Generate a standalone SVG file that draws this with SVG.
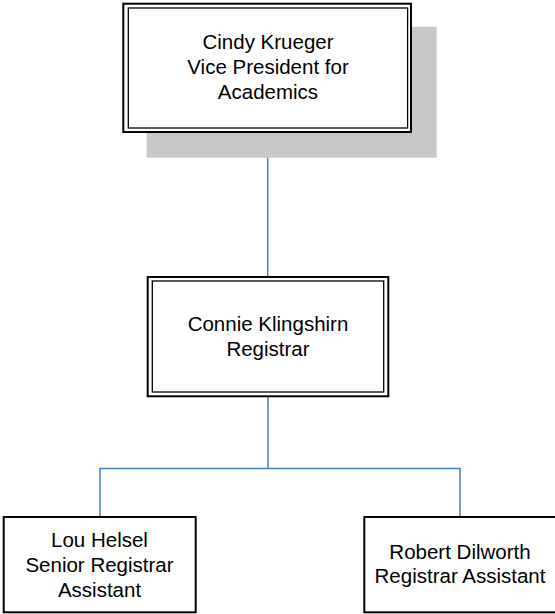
<svg xmlns="http://www.w3.org/2000/svg" width="555" height="614" viewBox="0 0 555 614">
<style>
.outer{fill:#fff;stroke:#000;stroke-width:2}
.inner{fill:none;stroke:#000;stroke-width:1.3}
.box{fill:#fff;stroke:#000;stroke-width:2}
.t{font-family:"Liberation Sans",Arial,sans-serif;font-size:20.5px;fill:#000;text-anchor:middle}
.c{fill:none;stroke:#4a7ebb;stroke-width:1.5}
</style>
<rect width="555" height="614" fill="#fff"/>
<g id="connectors">
<path class="c" d="M267.7 133V277"/>
<path class="c" d="M268 397V468.5M100 516V468.5H460V516"/>
</g>
<g id="node-krueger">
<rect x="146.7" y="26.7" width="290" height="131" fill="#c8c8c8"/>
<rect class="outer" x="123.3" y="3.7" width="287.7" height="128.3"/>
<rect class="inner" x="128.3" y="8" width="279.3" height="120"/>
<text class="t" x="268" y="49.3">Cindy Krueger</text>
<text class="t" x="268" y="74">Vice President for</text>
<text class="t" x="268" y="99.3">Academics</text>
</g>
<g id="node-klingshirn">
<rect class="outer" x="147.7" y="277" width="240.6" height="119.3"/>
<rect class="inner" x="152.3" y="281" width="231.4" height="111"/>
<text class="t" x="268" y="331">Connie Klingshirn</text>
<text class="t" x="268" y="355.7">Registrar</text>
</g>
<g id="node-helsel">
<rect class="box" x="3.7" y="517" width="192" height="95.3"/>
<text class="t" x="99.5" y="546.7">Lou Helsel</text>
<text class="t" x="99.5" y="572">Senior Registrar</text>
<text class="t" x="99.5" y="597">Assistant</text>
</g>
<g id="node-dilworth">
<rect class="box" x="364.3" y="517" width="192" height="95.3"/>
<text class="t" x="460" y="559">Robert Dilworth</text>
<text class="t" x="460" y="583.3">Registrar Assistant</text>
</g>
</svg>
